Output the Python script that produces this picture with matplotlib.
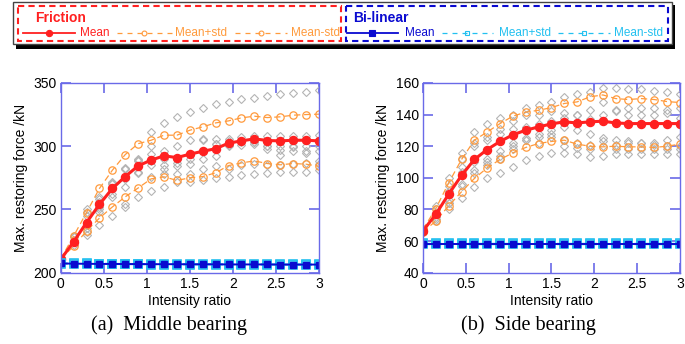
import numpy as np
import matplotlib
matplotlib.use('Agg')
import matplotlib.pyplot as plt
from matplotlib.patches import Rectangle
from matplotlib.lines import Line2D

plt.rcParams['font.family'] = ['Liberation Sans', 'DejaVu Sans']

# intensity ratio steps
ratio = [0, 0.15, 0.3, 0.45, 0.6, 0.75, 0.9, 1.05, 1.2, 1.35, 1.5,
         1.65, 1.8, 1.95, 2.1, 2.25, 2.4, 2.55, 2.7, 2.85, 3.0]

# ---- middle bearing (kN)
mid_mean = [210.5, 224.5, 239.7, 254, 266.6, 276, 284.5, 289, 292.4, 291, 293.7,
            296, 298, 302.4, 304.2, 305.8, 304.5, 304.2, 304.7, 304.7, 304.2]
mid_plus = [211, 229, 247.6, 266.6, 281, 293.4, 302, 304.7, 308.7, 308.7, 312.6,
            315.3, 318.4, 320, 322.4, 323.7, 322.6, 323.2, 324.5, 325, 325.3]
mid_minus = [211, 221, 233, 243.2, 252, 260, 267, 274.2, 275.8, 273, 275,
             276, 279, 284.7, 286.8, 288.4, 286.3, 285.3, 286.3, 285.8, 284.2]
mid_records = [
    [211, 229, 250, 260, 272, 283, 290, 311, 318, 323, 327, 330, 333, 335, 337, 338, 340, 341, 342, 343, 344],
    [210, 222, 230, 238, 245, 252, 260, 265, 268, 272, 272, 273, 275, 276, 277, 278, 279, 280, 280, 280, 281],
    [211, 228, 245, 258, 270, 282, 289, 294, 296, 300, 305, 305, 306, 306, 307, 308, 308, 308, 308, 308, 309],
    [210, 225, 238, 250, 262, 274, 280, 285, 285, 290, 290, 290, 292, 300, 303, 302, 298, 297, 296, 296, 296],
    [211, 226, 235, 248, 266, 268, 284, 288, 282, 284, 286, 296, 302, 304, 304, 303, 300, 300, 300, 300, 300],
    [210, 224, 248, 256, 271, 254, 279, 300, 290, 287, 294, 306, 302, 301, 301, 303, 300, 293, 299, 295, 288],
    [210, 224, 232, 252, 260, 282, 288, 276, 278, 278, 278, 282, 284, 282, 285, 286, 285, 285, 286, 287, 286],
]
mid_bl_mean = [207.4, 207.2, 207.1, 207, 207, 206.9, 206.9, 206.8, 206.8, 206.8, 206.7,
               206.7, 206.7, 206.6, 206.6, 206.6, 206.6, 206.5, 206.5, 206.5, 206.5]
mid_bl_plus = [207.7, 207.5, 207.4, 207.3, 207.3, 207.2, 207.2, 207.1, 207.1, 207.1, 207.0,
               207.0, 207.0, 206.9, 206.9, 206.9, 206.9, 206.8, 206.8, 206.8, 206.8]
mid_bl_minus = [207.1, 206.9, 206.8, 206.7, 206.7, 206.6, 206.6, 206.5, 206.5, 206.5, 206.4,
                206.4, 206.4, 206.3, 206.3, 206.3, 206.3, 206.2, 206.2, 206.2, 206.2]

# ---- side bearing (kN)
side_mean = [66.5, 77, 89.7, 101.5, 111.6, 117.9, 123, 127.2, 130.1, 132.2, 134.1,
             135.4, 134.7, 135.4, 135.8, 134.7, 134.3, 134.3, 134.3, 134.3, 134.3]
side_plus = [67.4, 80.6, 96.8, 111.6, 123.8, 129, 134.3, 139, 141.5, 142.7, 144.4,
             147, 148, 151.2, 152.4, 150.1, 149.5, 150.1, 149.5, 148.2, 147.6]
side_minus = [65.7, 72.8, 82.3, 91.2, 99.6, 106.3, 111.6, 115.8, 119.2, 121.7, 123,
              123.8, 121.3, 120, 119.6, 120, 119.6, 119.6, 119.2, 120, 121.3]
side_records = [
    [67, 82, 100, 116, 129, 134, 138, 140, 144, 146, 148, 151, 153, 154, 157, 157, 156, 156, 155, 154, 153],
    [66, 73, 80, 87, 94, 100, 103, 107, 111, 114, 116, 116, 115, 113, 114, 115, 115, 115, 115, 115, 115],
    [67, 80, 95, 112, 122, 126, 131, 136, 140, 140, 142, 141, 140, 143, 148, 143, 144, 144, 144, 143, 144],
    [66, 77, 92, 107, 120, 124, 128, 131, 132, 134, 136, 138, 140, 137, 140, 142, 140, 140, 140, 141, 138],
    [66, 75, 86, 104, 110, 112, 117, 122, 124, 128, 130, 132, 130, 128, 125, 124, 123, 122, 122, 124, 126],
    [66, 74, 84, 96, 103, 110, 114, 120, 124, 122, 128, 120, 119, 118, 120, 121, 122, 122, 121, 120, 120],
    [67, 78, 84, 95, 105, 108, 112, 118, 125, 126, 126, 124, 122, 121, 123, 118, 118, 118, 118, 118, 118],
]
side_bl_mean = [58.5] * 21
side_bl_plus = [58.7] * 21
side_bl_minus = [58.3] * 21

RED = '#ff2020'
ORANGE = '#ff9a3c'
GREY = '#b4b4b4'
BLUE = '#0a0ad0'
CYAN = '#22c0f0'
FRAME = '#6a6ae8'

fig = plt.figure(figsize=(6.85, 3.44), dpi=100)


def draw_panel(rect, recs, mean, plus, minus, bl_mean, bl_plus, bl_minus, ylim, ystep):
    ax = fig.add_axes(rect)
    for r in recs:
        ax.plot(ratio, r, ls='none', marker='D', ms=3.6, mfc='none', mec=GREY, mew=0.8)
    for s in (plus, minus):
        ax.plot(ratio, s, ls=(0, (5, 3)), lw=0.9, color=ORANGE, marker='o', ms=5.3,
                mfc='none', mec=ORANGE, mew=0.9)
    ax.plot(ratio, mean, '-', lw=2.2, color=RED, marker='o', ms=5.8, mfc=RED, mec=RED)
    for s in (bl_plus, bl_minus):
        ax.plot(ratio, s, ls=(0, (5, 3)), lw=1.0, color=CYAN, marker='s', ms=6,
                mfc='none', mec=CYAN, mew=1.2)
    ax.plot(ratio, bl_mean, '-', lw=1.4, color=BLUE, marker='s', ms=5, mfc=BLUE, mec=BLUE)
    ax.set_xlim(0, 3)
    ax.set_ylim(*ylim)
    ax.set_xticks(np.arange(0, 3.01, 0.5))
    ax.set_xticklabels(['0', '0.5', '1', '1.5', '2', '2.5', '3'])
    ax.set_yticks(np.arange(ylim[0], ylim[1] + 0.1, ystep))
    ax.tick_params(direction='in', length=7, width=1.2, color=FRAME, labelsize=10,
                   top=True, right=True, pad=3)
    for s in ax.spines.values():
        s.set_color(FRAME)
        s.set_linewidth(1.0)
    ax.set_xlabel('Intensity ratio', fontsize=10, labelpad=2)
    ax.set_ylabel('Max. restoring force /kN', fontsize=10, labelpad=4)
    return ax


draw_panel([0.0886, 0.207, 0.377, 0.552], mid_records, mid_mean, mid_plus, mid_minus,
           mid_bl_mean, mid_bl_plus, mid_bl_minus, (200, 350), 50)
draw_panel([0.6175, 0.207, 0.375, 0.552], side_records, side_mean, side_plus, side_minus,
           side_bl_mean, side_bl_plus, side_bl_minus, (40, 160), 20)

fig.text(169 / 685, 1 - 325 / 344, '(a)  Middle bearing', family='Liberation Serif',
         fontsize=14.5, ha='center', va='center')
fig.text(528 / 685, 1 - 325 / 344, '(b)  Side bearing', family='Liberation Serif',
         fontsize=14.5, ha='center', va='center')

# ---- legend box drawn in pixel space
lg = fig.add_axes([0, 0, 1, 1], zorder=5)
lg.set_xlim(0, 685)
lg.set_ylim(344, 0)
lg.axis('off')
lg.add_patch(Rectangle((16, 5), 659, 44, fc='black', ec='none'))
lg.add_patch(Rectangle((13, 1.5), 659, 42, fc='white', ec='#444444', lw=1.0))
lg.add_patch(Rectangle((18.5, 5.5), 323, 35.5, fc='none', ec=RED, lw=1.5, ls=(0, (3, 2))))
lg.add_patch(Rectangle((346, 5.5), 322, 35.5, fc='none', ec=BLUE, lw=1.5, ls=(0, (3, 2))))

lg.text(35, 18, 'Friction', color=RED, fontsize=10, fontweight='bold', va='center')
lg.text(353, 18, 'Bi-linear', color=BLUE, fontsize=10, fontweight='bold', va='center')

row = 32.5
items = [
    (23, 75, RED, '-', 'o', True, 1.3, 'Mean', 80),
    (117, 172, ORANGE, (0, (4, 4)), 'o', False, 0.9, 'Mean+std', 175),
    (235, 287, ORANGE, (0, (4, 4)), 'o', False, 0.9, 'Mean-std', 291),
    (347, 398, BLUE, '-', 's', True, 1.3, 'Mean', 405),
    (442, 493, CYAN, (0, (4, 4)), 's', False, 0.9, 'Mean+std', 499),
    (558, 610, CYAN, (0, (4, 4)), 's', False, 0.9, 'Mean-std', 614),
]
for x0, x1, c, ls, mk, filled, lw, label, tx in items:
    lg.add_line(Line2D([x0, x1], [row, row], color=c, ls=ls, lw=lw))
    lg.add_line(Line2D([(x0 + x1) / 2], [row], marker=mk, ms=4.5 if filled else 3.5,
                       mfc=c if filled else 'none', mec=c, mew=0.8, ls='none'))
    lg.text(tx, row, label, color=c, fontsize=8.5, va='center')

fig.savefig('out.png', dpi=100)
